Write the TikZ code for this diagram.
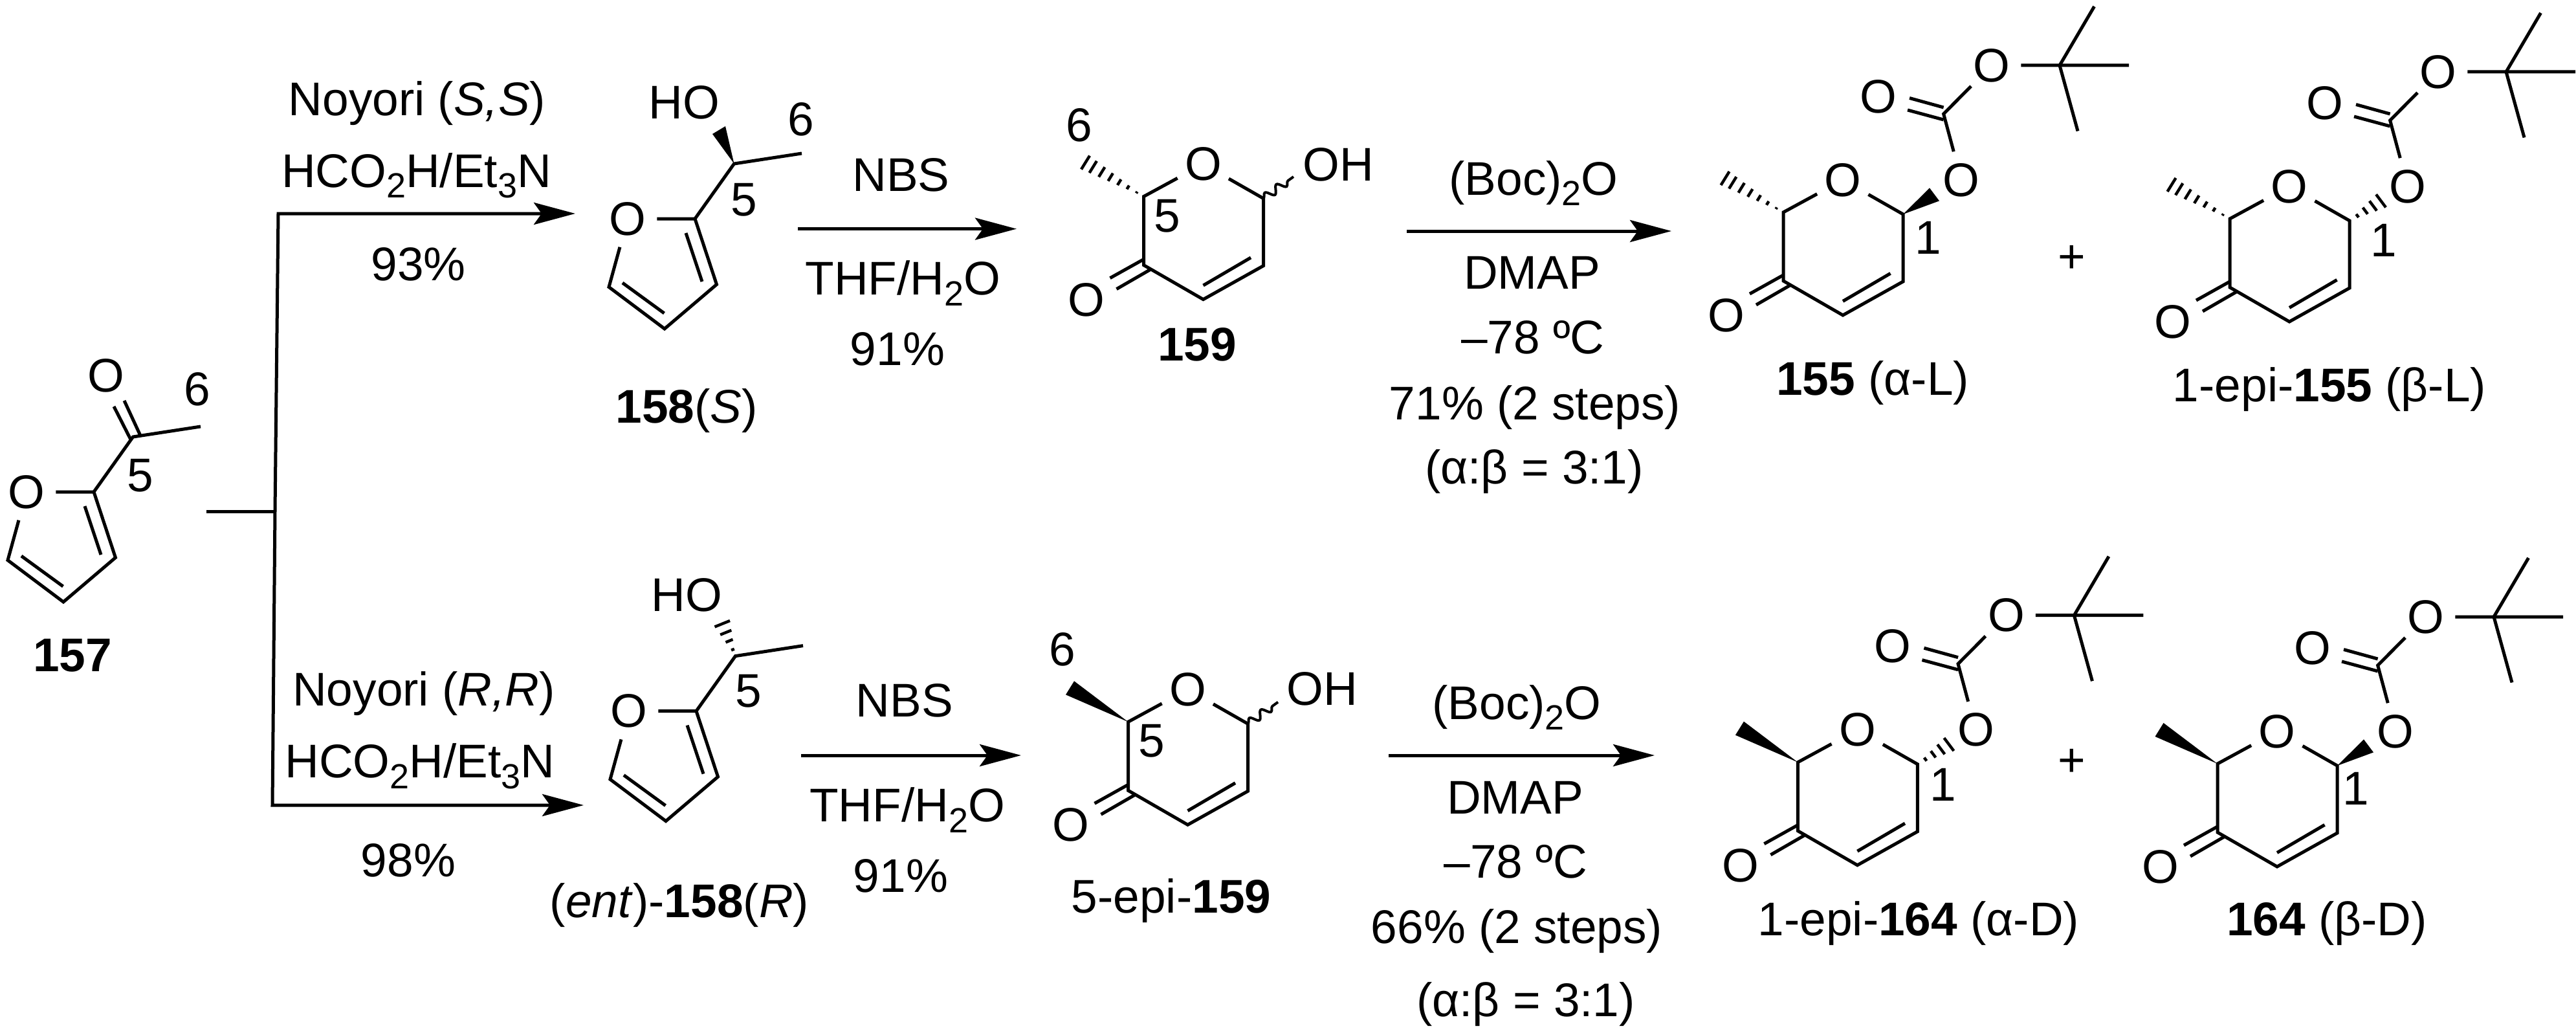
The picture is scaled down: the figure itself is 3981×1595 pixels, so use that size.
\documentclass[tikz,border=0pt]{standalone}
\usepackage{fontspec}
\setmainfont{Liberation Sans}
\usetikzlibrary{arrows.meta,calc,decorations.pathmorphing}
\newcommand{\sbs}[1]{\raisebox{-0.23em}{\fontsize{27}{27}\selectfont #1}}
\tikzset{
  txt/.style={anchor=base,inner sep=0pt,font=\fontsize{36.5}{40}\selectfont},
  num/.style={anchor=center,inner sep=0pt,font=\fontsize{36.5}{40}\selectfont},
  atom/.style={circle,inner sep=0pt,minimum size=45pt,font=\fontsize{36.5}{40}\selectfont},
  bond/.style={line width=2.5pt,line join=miter},
  thin bond/.style={line width=2pt},
  rxn/.style={line width=2.5pt,-{Stealth[length=32pt,width=17pt,inset=6pt]}},
  wavy/.style={line width=2pt,decorate,decoration={snake,segment length=11pt,amplitude=3pt}}
}
% hashed bond from #1 widening to the segment #2-#3; #4 = positions
\newcommand{\hashbond}[4]{\foreach \t in {#4}{\draw[thin bond,line width=2.2pt] ($(#1)!\t!(#2)$) -- ($(#1)!\t!(#3)$);}}
\newcommand{\wedgebond}[3]{\fill (#1) -- (#2) -- (#3) -- cycle;}
% pyranone ring, frame origin at C5
\newcommand{\pyrone}[3]{%
 \begin{scope}[shift={(#2,#3)}]
  \coordinate (#1c5) at (0,0);
  \node[atom] (#1o) at (92,-50) {O};
  \coordinate (#1c1) at (185,3);
  \coordinate (#1c2) at (185,107);
  \coordinate (#1c3) at (92,159);
  \coordinate (#1c4) at (0,106);
  \node[atom] (#1ok) at (-88.5,159.4) {O};
  \coordinate (#1a1) at (0,97); \coordinate (#1a2) at (-52,126);
  \coordinate (#1b1) at (10,113); \coordinate (#1b2) at (-42,143);
  \coordinate (#1d1) at (165.5,94.4); \coordinate (#1d2) at (92,137.4);
  \coordinate (#1me) at (-90,-52);
  \coordinate (#1me1) at (-96.5,-42); \coordinate (#1me2) at (-83.5,-63);
  \coordinate (#1w1) at (226,-37.6); \coordinate (#1w2) at (241,-17.6);
  \coordinate (#1wy) at (234,-30.6);
  \draw[bond] (#1o) -- (#1c5) -- (#1c4) -- (#1c3) -- (#1c2) -- (#1c1) -- (#1o);
  \draw[bond] (#1a1) -- (#1a2) (#1b1) -- (#1b2);
  \draw[bond] (#1d1) -- (#1d2);
 \end{scope}}
% Boc carbonate on the same frame
\newcommand{\bocgrp}[3]{%
 \begin{scope}[shift={(#2,#3)}]
  \node[atom] (#1oa) at (275,-50) {O};
  \coordinate (#1cc) at (247.6,-152);
  \node[atom] (#1ocb) at (146.6,-179) {O};
  \node[atom] (#1oe) at (322,-227) {O};
  \coordinate (#1cq) at (427,-227);
  \coordinate (#1m1) at (534,-227);
  \coordinate (#1m2) at (480.5,-318);
  \coordinate (#1m3) at (455,-125.5);
  \coordinate (#1x1) at (247.6,-162); \coordinate (#1x2) at (195,-176.5);
  \coordinate (#1y1) at (247.6,-143); \coordinate (#1y2) at (192,-158);
  \draw[bond] (#1oa) -- (#1cc) -- (#1oe) -- (#1cq) -- (#1m1);
  \draw[bond] (#1m2) -- (#1cq) -- (#1m3);
  \draw[bond] (#1x1) -- (#1x2) (#1y1) -- (#1y2);
 \end{scope}}
% furan with side chain, frame origin at C2
\newcommand{\furan}[3]{%
 \begin{scope}[shift={(#2,#3)}]
  \coordinate (#1c2) at (0,0);
  \node[atom] (#1o) at (-104,0) {O};
  \coordinate (#1c3) at (33.5,101.5);
  \coordinate (#1c4) at (-47,170);
  \coordinate (#1c5) at (-133,105.5);
  \coordinate (#1ch) at (60.5,-85);
  \coordinate (#1me) at (165,-101);
  \coordinate (#1p1) at (-14,22); \coordinate (#1p2) at (11,97);
  \coordinate (#1q1) at (-112,99); \coordinate (#1q2) at (-47.5,146);
  \draw[bond] (#1o) -- (#1c2) -- (#1c3) -- (#1c4) -- (#1c5) -- (#1o);
  \draw[bond] (#1c2) -- (#1ch) -- (#1me);
  \draw[bond] (#1p1) -- (#1p2) (#1q1) -- (#1q2);
 \end{scope}}
\begin{document}
\begin{tikzpicture}[x=0.5pt,y=-0.5pt]
\useasboundingbox (0,0) rectangle (3981,1595);
\fill[white] (0,0) rectangle (3981,1595);

% 157
\furan{s}{145}{760}
\node[atom] (sok) at (164,580) {O};
\coordinate (sa1) at (203,681); \coordinate (sa2) at (176,628);
\coordinate (sb1) at (217,673); \coordinate (sb2) at (192,619);
\draw[bond] (sa1) -- (sa2) (sb1) -- (sb2);
\node[num] (s6) at (305,601) {6};
\node[num] (s5) at (217,735) {5};
\node[txt] (l157) at (112,1037) {\textbf{157}};

% branching arrows
\coordinate (j0) at (319,790);
\coordinate (j1) at (425,790);
\coordinate (jt) at (430,330);
\coordinate (jb) at (421,1244);
\coordinate (tipt) at (889,330);
\coordinate (tipb) at (902,1244);
\draw[bond] (j0) -- (j1);
\draw[rxn] (j1) -- (jt) -- (tipt);
\draw[rxn] (j1) -- (jb) -- (tipb);
\node[txt] (t1) at (644.5,178.6) {Noyori (\textit{S,S})};
\node[txt] (t2) at (643.5,289) {HCO\sbs{2}H/Et\sbs{3}N};
\node[txt] (t3) at (646.5,433) {93\%};
\node[txt] (t4) at (655,1090) {Noyori (\textit{R,R})};
\node[txt] (t5) at (649,1201.6) {HCO\sbs{2}H/Et\sbs{3}N};
\node[txt] (t6) at (631,1354) {98\%};

% 158(S)
\furan{f}{1074}{338}
\coordinate (fe1) at (1101,207); \coordinate (fe2) at (1121,195);
\wedgebond{fch}{fe1}{fe2}
\node[txt] (fho) at (1057.5,184) {HO};
\node[num] (f6) at (1238,184) {6};
\node[num] (f5) at (1150,309) {5};
\node[txt] (l158) at (1061,653) {\textbf{158}(\textit{S})};

% ent-158(R)
\furan{g}{1076}{1098.6}
\coordinate (ge1) at (1104.5,968.5); \coordinate (ge2) at (1128,959);
\hashbond{gch}{ge1}{ge2}{0.2,0.47,0.73,1}
\node[txt] (gho) at (1061.5,944.5) {HO};
\node[num] (g5) at (1157,1068) {5};
\node[txt] (lent) at (1050,1417) {(\textit{ent})-\textbf{158}(\textit{R})};

% NBS arrows
\coordinate (a1s) at (1233,353.6); \coordinate (a1e) at (1571,353.6);
\draw[rxn] (a1s) -- (a1e);
\node[txt] (n1) at (1392.5,295) {NBS};
\node[txt] (n2) at (1395.5,455.6) {THF/H\sbs{2}O};
\node[txt] (n3) at (1387,564) {91\%};
\coordinate (a2s) at (1238,1167); \coordinate (a2e) at (1578,1167);
\draw[rxn] (a2s) -- (a2e);
\node[txt] (n4) at (1398,1107) {NBS};
\node[txt] (n5) at (1402,1269.5) {THF/H\sbs{2}O};
\node[txt] (n6) at (1392,1378) {91\%};

% 159
\pyrone{a}{1767.5}{303.6}
\hashbond{ac5}{ame1}{ame2}{0.12,0.27,0.42,0.57,0.72,0.87,1}
\coordinate (awe) at (1999,273);
\draw[wavy] (ac1) -- (awe);
\node[txt] (aoh) at (2068.5,279) {OH};
\node[num] (a6) at (1667.6,193) {6};
\node[num] (a5) at (1803.6,334) {5};
\node[txt] (l159) at (1850,557.6) {\textbf{159}};

% 5-epi-159
\pyrone{b}{1743.5}{1115.3}
\wedgebond{bc5}{bme1}{bme2}
\coordinate (bwe) at (1975,1084.7);
\draw[wavy] (bc1) -- (bwe);
\node[txt] (boh) at (2043.5,1089.4) {OH};
\node[num] (b6) at (1642,1003) {6};
\node[num] (b5) at (1779.6,1144.5) {5};
\node[txt] (l5e) at (1810,1410) {5-epi-\textbf{159}};

% Boc arrows
\coordinate (a3s) at (2174,357); \coordinate (a3e) at (2583,357);
\draw[rxn] (a3s) -- (a3e);
\node[txt] (c1) at (2370,301) {(Boc)\sbs{2}O};
\node[txt] (c2) at (2367.5,446) {DMAP};
\node[txt] (c3) at (2369,546) {–78 ºC};
\node[txt] (c4) at (2372,648) {71\% (2 steps)};
\node[txt] (c5) at (2371,747.5) {(α:β = 3:1)};
\coordinate (a4s) at (2146,1167); \coordinate (a4e) at (2557,1167);
\draw[rxn] (a4s) -- (a4e);
\node[txt] (d1) at (2344,1111) {(Boc)\sbs{2}O};
\node[txt] (d2) at (2341.5,1257) {DMAP};
\node[txt] (d3) at (2342.5,1356) {–78 ºC};
\node[txt] (d4) at (2344,1457) {66\% (2 steps)};
\node[txt] (d5) at (2358,1570.5) {(α:β = 3:1)};

% 155
\pyrone{p}{2756}{328}
\bocgrp{p}{2756}{328}
\hashbond{pc5}{pme1}{pme2}{0.12,0.27,0.42,0.57,0.72,0.87,1}
\wedgebond{pc1}{pw1}{pw2}
\node[num] (p1) at (2980,367) {1};
\node[txt] (l155) at (2894,610.7) {\textbf{155} (α-L)};
\node[txt] (plus1) at (3202,421) {+};

% 1-epi-155
\pyrone{q}{3446}{338}
\bocgrp{q}{3446}{338}
\hashbond{qc5}{qme1}{qme2}{0.12,0.27,0.42,0.57,0.72,0.87,1}
\hashbond{qc1}{qw1}{qw2}{0.25,0.5,0.75,1}
\node[num] (q1) at (3684,371) {1};
\node[txt] (l1e) at (3600,620) {1-epi-\textbf{155} (β-L)};

% 1-epi-164
\pyrone{r}{2778.4}{1177.7}
\bocgrp{r}{2778.4}{1177.7}
\wedgebond{rc5}{rme1}{rme2}
\hashbond{rc1}{rw1}{rw2}{0.25,0.5,0.75,1}
\node[num] (r1) at (3003,1212) {1};
\node[txt] (l1f) at (2965,1445.5) {1-epi-\textbf{164} (α-D)};
\node[txt] (plus2) at (3202,1199) {+};

% 164
\pyrone{u}{3427}{1180}
\bocgrp{u}{3427}{1180}
\wedgebond{uc5}{ume1}{ume2}
\wedgebond{uc1}{uw1}{uw2}
\node[num] (u1) at (3641,1218.5) {1};
\node[txt] (l164) at (3596,1445.5) {\textbf{164} (β-D)};
\end{tikzpicture}
\end{document}
